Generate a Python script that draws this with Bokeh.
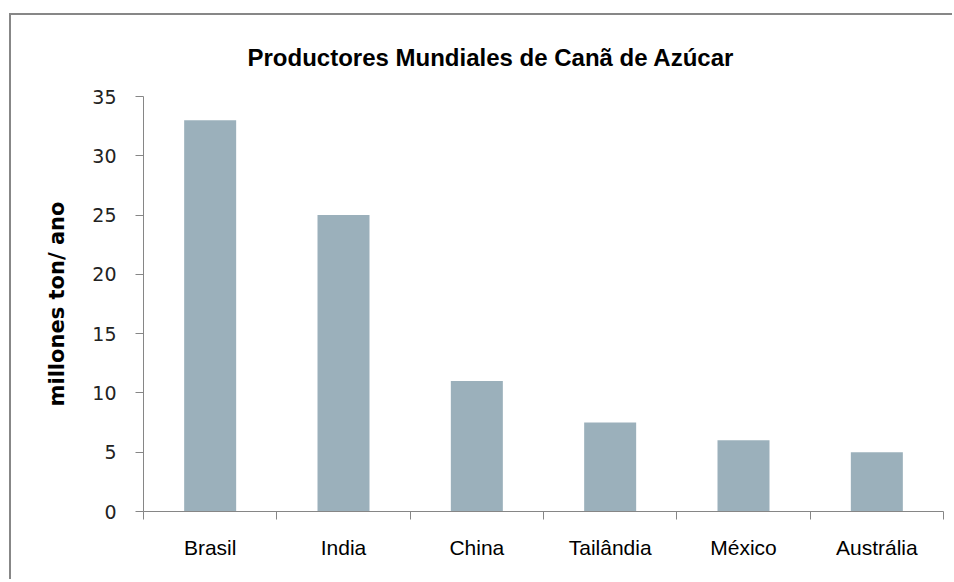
from bokeh.plotting import figure
from bokeh.models import Range1d, LinearAxis, FixedTicker, ColumnDataSource
from bokeh.embed import file_html
from bokeh.resources import INLINE

# ---- data ----
categories = ["Brasil", "India", "China", "Tailândia", "México", "Austrália"]
values = [33, 25, 11, 7.5, 6, 5]
y_ticks = [0, 5, 10, 15, 20, 25, 30, 35]
title_text = "Productores Mundiales de Canã de Azúcar"
y_label = "millones ton/ ano"

AXIS_COLOR = "#868686"
BAR_COLOR = "#9bb0bb"

# category slots on a numeric axis: centres for bars/labels, edges for tick marks
n = len(categories)
centers = [i + 0.5 for i in range(n)]
edges = list(range(n + 1))
src = ColumnDataSource(dict(x=centers, top=values, cat=categories))

p = figure(
    width=943, height=566,
    x_range=Range1d(0, n),
    y_range=Range1d(0, 35),
    x_axis_location=None, y_axis_location=None,
    output_backend="svg", toolbar_location=None,
    min_border_left=132, min_border_right=11, min_border_top=80, min_border_bottom=70,
    margin=(15, 0, 0, 11),
    styles={"box-shadow": "-2px -2px 0 0 #878787"},
)

p.outline_line_color = None
p.xgrid.visible = False
p.ygrid.visible = False
p.background_fill_color = "white"
p.border_fill_color = "white"

p.vbar(x="x", top="top", width=0.39, source=src, fill_color=BAR_COLOR, line_color=None)

# title
p.title.text = title_text
p.title.text_font = "Liberation Sans"
p.title.text_font_size = "24px"
p.title.text_font_style = "bold"
p.title.text_color = "black"
p.title.align = "left"
p.title.offset = 104
p.title.standoff = 52

# y axis
yax = LinearAxis(ticker=FixedTicker(ticks=y_ticks))
yax.axis_line_color = AXIS_COLOR
yax.major_tick_line_color = AXIS_COLOR
yax.major_tick_out = 8
yax.major_tick_in = 0
yax.minor_tick_line_color = None
yax.major_label_text_font = "DejaVu Sans"
yax.major_label_text_font_size = "19px"
yax.major_label_text_color = "#222222"
yax.major_label_standoff = 19
yax.axis_label = y_label
yax.axis_label_text_font = "DejaVu Sans"
yax.axis_label_text_font_size = "21px"
yax.axis_label_text_font_style = "bold"
yax.axis_label_text_color = "black"
yax.axis_label_standoff = 20
p.add_layout(yax, "left")

# x axis: labels at category centres, tick marks at category boundaries
xax = LinearAxis(ticker=FixedTicker(ticks=centers, minor_ticks=edges))
xax.major_label_overrides = {c: name for c, name in zip(centers, categories)}
xax.axis_line_color = AXIS_COLOR
xax.major_tick_line_color = None
xax.minor_tick_line_color = AXIS_COLOR
xax.minor_tick_out = 8
xax.minor_tick_in = 0
xax.major_tick_out = 8
xax.major_tick_in = 0
xax.major_label_text_font = "Liberation Sans"
xax.major_label_text_font_size = "21px"
xax.major_label_text_color = "black"
xax.major_label_standoff = 16
p.add_layout(xax, "below")

open("out.html", "w").write(file_html(p, INLINE))
